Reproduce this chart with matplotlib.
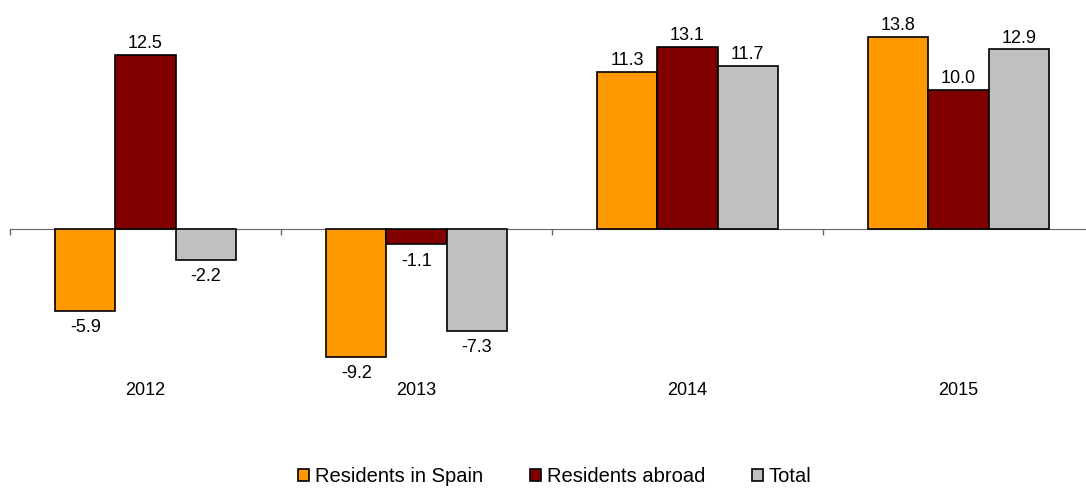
import matplotlib
matplotlib.use('Agg')
import matplotlib.pyplot as plt
import numpy as np

plt.rcParams['font.family'] = ['Liberation Sans', 'DejaVu Sans']

years = ['2012', '2013', '2014', '2015']
series = ['Residents in Spain', 'Residents abroad', 'Total']
spain = [-5.9, -9.2, 11.3, 13.8]
abroad = [12.5, -1.1, 13.1, 10.0]
total = [-2.2, -7.3, 11.7, 12.9]
colors = ['#FF9900', '#800000', '#C0C0C0']

fig = plt.figure(figsize=(10.86, 4.88), dpi=100)
ax = fig.add_axes([10/1086, 0.1885, 1084/1086, 0.7988])

x = np.arange(len(years))
w = 0.222
for k, (vals, c, name) in enumerate(zip([spain, abroad, total], colors, series)):
	pos = x + (k - 1) * w
	ax.bar(pos, vals, w, color=c, edgecolor='black', linewidth=1.2, label=name, zorder=3)
	for px, v in zip(pos, vals):
		if v >= 0:
			ax.annotate('%.1f' % v, (px, v), xytext=(0, 2), textcoords='offset points',
						ha='center', va='bottom', fontsize=13)
		else:
			ax.annotate('%.1f' % v, (px, v), xytext=(0, -6), textcoords='offset points',
						ha='center', va='top', fontsize=13)

ax.set_xlim(-0.5, 3.5)
ax.set_ylim(-12, 16)
for s in ['top', 'right', 'left']:
	ax.spines[s].set_visible(False)
ax.spines['bottom'].set_position(('data', 0))
ax.spines['bottom'].set_color('#666666')
ax.spines['bottom'].set_zorder(2)
ax.set_yticks([])
ax.set_xticks(np.arange(-0.5, 4, 1))
ax.set_xticklabels([])
ax.tick_params(axis='x', direction='out', length=4.5, width=1, color='#666666')

for i, yr in enumerate(years):
	ax.text(i, -11.57, yr, ha='center', va='center', fontsize=13)

fig.legend(loc='center', bbox_to_anchor=(555/1086, 1 - 477/488), ncol=3, frameon=False,
		   fontsize=14.5, handlelength=0.55, handleheight=0.55, handletextpad=0.3,
		   columnspacing=2.3)

fig.savefig('out.png', dpi=100)
